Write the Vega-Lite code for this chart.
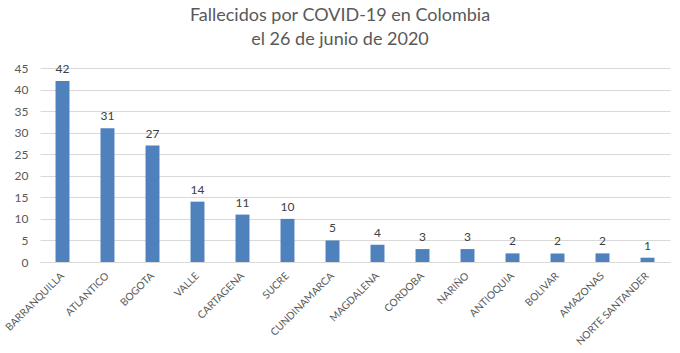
{
  "$schema": "https://vega.github.io/schema/vega-lite/v6.json",
  "width": 630,
  "height": 194,
  "autosize": "none",
  "padding": {"left": 40, "top": 68, "right": 10, "bottom": 91},
  "background": "white",
  "config": {"view": {"stroke": null}},
  "title": {
    "text": ["Fallecidos por COVID-19 en Colombia", "el 26 de junio de 2020"],
    "font": "Lato",
    "fontSize": 18,
    "fontWeight": "normal",
    "color": "#595959",
    "anchor": "middle",
    "lineHeight": 24,
    "offset": 13,
    "dx": -15
  },
  "data": {
    "values": [
      {"dep": "BARRANQUILLA", "n": 42},
      {"dep": "ATLANTICO", "n": 31},
      {"dep": "BOGOTA", "n": 27},
      {"dep": "VALLE", "n": 14},
      {"dep": "CARTAGENA", "n": 11},
      {"dep": "SUCRE", "n": 10},
      {"dep": "CUNDINAMARCA", "n": 5},
      {"dep": "MAGDALENA", "n": 4},
      {"dep": "CORDOBA", "n": 3},
      {"dep": "NARIÑO", "n": 3},
      {"dep": "ANTIOQUIA", "n": 2},
      {"dep": "BOLIVAR", "n": 2},
      {"dep": "AMAZONAS", "n": 2},
      {"dep": "NORTE SANTANDER", "n": 1}
    ]
  },
  "encoding": {
    "x": {
      "field": "dep", "type": "nominal", "sort": null, "title": null,
      "scale": {"paddingInner": 0.69, "paddingOuter": 0.345},
      "axis": {"labelAngle": -45, "labelAlign": "right", "labelBaseline": "middle", "labelFont": "Lato", "labelFontSize": 10.3, "labelColor": "#595959", "ticks": false, "domainColor": "#d9d9d9", "labelPadding": 12, "grid": false}
    },
    "y": {
      "field": "n", "type": "quantitative", "title": null,
      "scale": {"domain": [0, 45]},
      "axis": {"values": [0,5,10,15,20,25,30,35,40,45], "labelFont": "Lato", "labelFontSize": 12, "labelColor": "#595959", "ticks": false, "domain": false, "gridColor": "#d9d9d9", "labelPadding": 12}
    }
  },
  "layer": [
    {"mark": {"type": "bar", "color": "#4F81BD"}},
    {"mark": {"type": "text", "dy": -12, "font": "Lato", "fontSize": 12, "color": "#404040"}, "encoding": {"text": {"field": "n"}}}
  ]
}
